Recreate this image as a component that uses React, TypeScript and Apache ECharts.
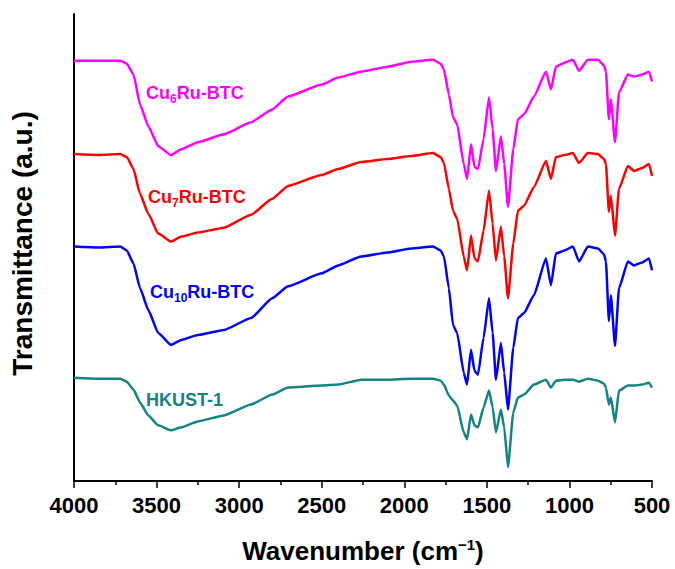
import React, { useEffect, useRef } from "react";
import * as echarts from "echarts";

// Wavenumber grid (cm^-1) shared by every spectrum
const wavenumbers = [
  4000, 3850, 3720, 3680, 3640, 3600, 3550, 3490, 3413, 3350, 3250, 3092, 2928, 2800, 2704,
  2500, 2400, 2262, 2100, 1960, 1826, 1780, 1760, 1730, 1705, 1680, 1640, 1620, 1596, 1575,
  1554, 1520, 1487, 1465, 1445, 1415, 1395, 1372, 1340, 1312, 1275, 1215, 1142, 1112, 1082,
  1030, 979, 942, 888, 827, 790, 779, 761, 749, 724, 700, 646, 609, 560, 518, 500,
];

// Offset transmittance traces (a.u.)
const cu6RuBtc = [
  423, 423, 423, 420, 409, 379, 357, 337, 328, 334, 341, 349, 361, 374, 387,
  399, 406, 412, 417, 422, 424, 420, 414, 389, 366, 359, 319, 304, 339, 316,
  314, 344, 386, 354, 312, 347, 319, 276, 334, 364, 369, 387, 412, 394, 417,
  421, 424, 413, 424, 424, 418, 412, 364, 384, 341, 391, 409, 407, 409, 412, 402,
];
const cu7RuBtc = [
  329, 328, 329, 326, 314, 289, 269, 249, 241, 246, 250, 255, 268, 284, 297,
  308, 314, 321, 324, 327, 330, 326, 320, 294, 272, 264, 226, 212, 247, 224,
  221, 252, 292, 259, 222, 256, 226, 184, 239, 272, 277, 296, 322, 304, 326,
  328, 330, 320, 330, 329, 324, 319, 271, 287, 247, 294, 317, 312, 315, 319, 307,
];
const cu10RuBtc = [
  236, 235, 236, 232, 219, 194, 172, 149, 137, 142, 147, 152, 164, 184, 196,
  209, 217, 226, 230, 234, 236, 232, 226, 194, 157, 149, 109, 97, 132, 111,
  107, 144, 184, 149, 102, 139, 109, 72, 134, 164, 169, 187, 224, 197, 229,
  232, 236, 221, 236, 234, 228, 221, 161, 187, 136, 194, 221, 217, 220, 224, 212,
];
const hkust1 = [
  104, 103, 103, 100, 92, 79, 66, 56, 51, 54, 60, 66, 77, 87, 94,
  96, 97, 102, 102, 103, 103, 101, 97, 86, 81, 76, 49, 42, 67, 56,
  54, 74, 91, 74, 49, 72, 54, 14, 69, 84, 87, 97, 102, 94, 101,
  102, 102, 100, 103, 101, 98, 94, 77, 84, 59, 91, 96, 96, 97, 99, 94,
];

const seriesNames = ["Cu6Ru-BTC", "Cu7Ru-BTC", "Cu10Ru-BTC", "HKUST-1"];
const seriesColors = ["#ff00ff", "#ff0000", "#0000ff", "#138383"];
const seriesValues = [cu6RuBtc, cu7RuBtc, cu10RuBtc, hkust1];

// Axis ticks
const xMin = 500;
const xMax = 4000;
const xStep = 500;

const FONT = "'Liberation Sans', Arial, Helvetica, sans-serif";

function subLabel(main: string, sub: string, rest: string) {
  return `{a|${main}}{s|${sub}}{a|${rest}}`;
}

export default function App() {
  const ref = useRef<HTMLDivElement>(null);

  useEffect(() => {
    if (!ref.current) return;
    const chart = echarts.init(ref.current, undefined, { renderer: "svg" });

    const richSub = (color: string) => ({
      a: { fontSize: 18, fontWeight: "bold", fontFamily: FONT, fill: color, color, lineHeight: 24 },
      s: {
        fontSize: 12,
        fontWeight: "bold",
        fontFamily: FONT,
        fill: color,
        color,
        lineHeight: 12,
        verticalAlign: "bottom",
      },
    });

    const labels = [
      { text: subLabel("Cu", "6", "Ru-BTC"), x: 146, y: 93, color: seriesColors[0] },
      { text: subLabel("Cu", "7", "Ru-BTC"), x: 148, y: 197, color: seriesColors[1] },
      { text: subLabel("Cu", "10", "Ru-BTC"), x: 150, y: 292, color: seriesColors[2] },
      { text: "{a|HKUST-1}", x: 146, y: 400, color: seriesColors[3] },
    ];

    chart.setOption({
      animation: false,
      backgroundColor: "#ffffff",
      grid: { left: 73, right: 23, top: 14, bottom: 85, containLabel: false },
      xAxis: {
        type: "value",
        inverse: true,
        min: xMin,
        max: xMax,
        interval: xStep,
        splitLine: { show: false },
        axisLine: { show: true, onZero: false, lineStyle: { color: "#000", width: 2 } },
        axisTick: { show: true, inside: false, length: 7, lineStyle: { color: "#000", width: 1.5 } },
        minorTick: { show: true, splitNumber: 2, length: 4, lineStyle: { color: "#000", width: 1.5 } },
        axisLabel: {
          color: "#000",
          fontFamily: FONT,
          fontWeight: "bold",
          fontSize: 22,
          margin: 13,
          formatter: (v: number) => String(v),
        },
        name: "{a|Wavenumber (cm}{s|−1}{a|)}",
        nameLocation: "middle",
        nameGap: 56,
        nameTextStyle: {
          rich: {
            a: { fontSize: 26, fontWeight: "bold", fontFamily: FONT, color: "#000", lineHeight: 28 },
            s: {
              fontSize: 15,
              fontWeight: "bold",
              fontFamily: FONT,
              color: "#000",
              lineHeight: 12,
              verticalAlign: "top",
            },
          },
        },
      },
      yAxis: {
        type: "value",
        min: 0,
        max: 470,
        splitLine: { show: false },
        axisLine: { show: true, onZero: false, lineStyle: { color: "#000", width: 2 } },
        axisTick: { show: false },
        axisLabel: { show: false },
        name: "Transmittance (a.u.)",
        nameLocation: "middle",
        nameGap: 38,
        nameTextStyle: {
          color: "#000",
          fontFamily: FONT,
          fontWeight: "bold",
          fontSize: 28,
          padding: [0, 0, 0, 8],
        },
      },
      series: seriesValues.map((vals, i) => ({
        name: seriesNames[i],
        type: "line",
        data: wavenumbers.map((w, j) => [w, vals[j]]),
        showSymbol: false,
        smooth: 0.15,
        smoothMonotone: "x",
        lineStyle: { color: seriesColors[i], width: 2.5 },
        itemStyle: { color: seriesColors[i] },
      })),
      graphic: labels.map((l) => ({
        type: "text",
        x: l.x,
        y: l.y,
        style: {
          text: l.text,
          rich: richSub(l.color),
          align: "left",
          verticalAlign: "middle",
          fill: l.color,
        },
      })),
    });

    return () => chart.dispose();
  }, []);

  return (
    <div
      ref={ref}
      style={{ position: "fixed", left: 0, top: 0, width: 675, height: 569 }}
    />
  );
}
